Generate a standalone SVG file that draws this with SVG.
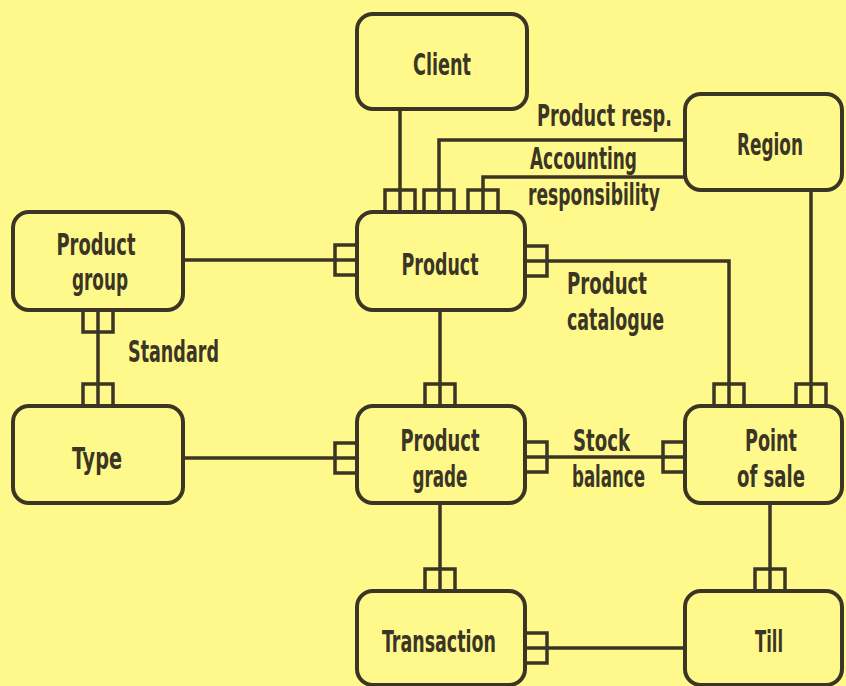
<svg xmlns="http://www.w3.org/2000/svg" xmlns:xlink="http://www.w3.org/1999/xlink" width="846" height="686" viewBox="0 0 846 686">
<style>
.box{fill:#FFF98C;stroke:#3b3526;stroke-width:4}
.ln{fill:none;stroke:#3b3526;stroke-width:3.5}
.mk{fill:none;stroke:#3b3526;stroke-width:3.5}
text{font-family:"Liberation Sans Narrow","DejaVu Sans Condensed","Liberation Sans",sans-serif;font-weight:bold;font-size:30px;fill:#3b3526}
.c{text-anchor:middle}
</style>
<defs>
<path id="mU" class="mk" d="M-15 0V-22H15V0"/>
<path id="mD" class="mk" d="M-15 0V22H15V0"/>
<path id="mL" class="mk" d="M0 -15H-22V15H0"/>
<path id="mR" class="mk" d="M0 -15H22V15H0"/>
</defs>
<rect width="846" height="686" fill="#FFF98C"/>
<g id="connectors">
<path class="ln" d="M400 109V212"/>
<path class="ln" d="M685 140H439V212"/>
<path class="ln" d="M685 177H483V212"/>
<path class="ln" d="M183 260H357"/>
<path class="ln" d="M525 261H729V406"/>
<path class="ln" d="M811 190V406"/>
<path class="ln" d="M98 310V406"/>
<path class="ln" d="M183 458H357"/>
<path class="ln" d="M440 310V406"/>
<path class="ln" d="M525 457H685"/>
<path class="ln" d="M440 503V591"/>
<path class="ln" d="M770 503V591"/>
<path class="ln" d="M525 648H685"/>
<use xlink:href="#mU" x="400" y="212"/>
<use xlink:href="#mU" x="439" y="212"/>
<use xlink:href="#mU" x="483" y="212"/>
<use xlink:href="#mL" x="357" y="260"/>
<use xlink:href="#mR" x="525" y="261"/>
<use xlink:href="#mD" x="98" y="310"/>
<use xlink:href="#mU" x="98" y="406"/>
<use xlink:href="#mL" x="357" y="458"/>
<use xlink:href="#mR" x="525" y="457"/>
<use xlink:href="#mU" x="440" y="406"/>
<use xlink:href="#mU" x="729" y="406"/>
<use xlink:href="#mU" x="811" y="406"/>
<use xlink:href="#mL" x="685" y="457"/>
<use xlink:href="#mU" x="440" y="591"/>
<use xlink:href="#mR" x="525" y="648"/>
<use xlink:href="#mU" x="770" y="591"/>
<text x="537" y="126" textLength="135" lengthAdjust="spacingAndGlyphs">Product resp.</text>
<text x="530" y="169" textLength="107" lengthAdjust="spacingAndGlyphs">Accounting</text>
<text x="528" y="205" textLength="132" lengthAdjust="spacingAndGlyphs">responsibility</text>
<text x="567" y="294" textLength="80" lengthAdjust="spacingAndGlyphs">Product</text>
<text x="567" y="330" textLength="97" lengthAdjust="spacingAndGlyphs">catalogue</text>
<text x="128" y="362" textLength="91" lengthAdjust="spacingAndGlyphs">Standard</text>
<text x="573" y="451" textLength="57" lengthAdjust="spacingAndGlyphs">Stock</text>
<text x="572" y="487" textLength="73" lengthAdjust="spacingAndGlyphs">balance</text>
</g>
<g id="client"><rect class="box" x="357" y="14" width="170" height="95" rx="16"/><text class="c" x="442" y="75" textLength="58" lengthAdjust="spacingAndGlyphs">Client</text></g>
<g id="region"><rect class="box" x="685" y="94" width="157" height="96" rx="16"/><text class="c" x="770" y="155" textLength="66" lengthAdjust="spacingAndGlyphs">Region</text></g>
<g id="product"><rect class="box" x="357" y="212" width="168" height="98" rx="16"/><text class="c" x="440" y="275" textLength="77" lengthAdjust="spacingAndGlyphs">Product</text></g>
<g id="product-group"><rect class="box" x="13" y="212" width="170" height="98" rx="16"/><text class="c" x="96" y="255" textLength="79" lengthAdjust="spacingAndGlyphs">Product</text><text class="c" x="100" y="290" textLength="56" lengthAdjust="spacingAndGlyphs">group</text></g>
<g id="type"><rect class="box" x="13" y="406" width="170" height="97" rx="16"/><text class="c" x="97" y="469" textLength="50" lengthAdjust="spacingAndGlyphs">Type</text></g>
<g id="product-grade"><rect class="box" x="357" y="406" width="168" height="97" rx="16"/><text class="c" x="440" y="451" textLength="79" lengthAdjust="spacingAndGlyphs">Product</text><text class="c" x="440" y="487" textLength="55" lengthAdjust="spacingAndGlyphs">grade</text></g>
<g id="point-of-sale"><rect class="box" x="685" y="406" width="157" height="97" rx="16"/><text class="c" x="771" y="451" textLength="52" lengthAdjust="spacingAndGlyphs">Point</text><text class="c" x="771" y="487" textLength="68" lengthAdjust="spacingAndGlyphs">of sale</text></g>
<g id="transaction"><rect class="box" x="357" y="591" width="168" height="94" rx="16"/><text class="c" x="439" y="652" textLength="114" lengthAdjust="spacingAndGlyphs">Transaction</text></g>
<g id="till"><rect class="box" x="685" y="591" width="157" height="94" rx="16"/><text class="c" x="769" y="652" textLength="28" lengthAdjust="spacingAndGlyphs">Till</text></g>
</svg>
